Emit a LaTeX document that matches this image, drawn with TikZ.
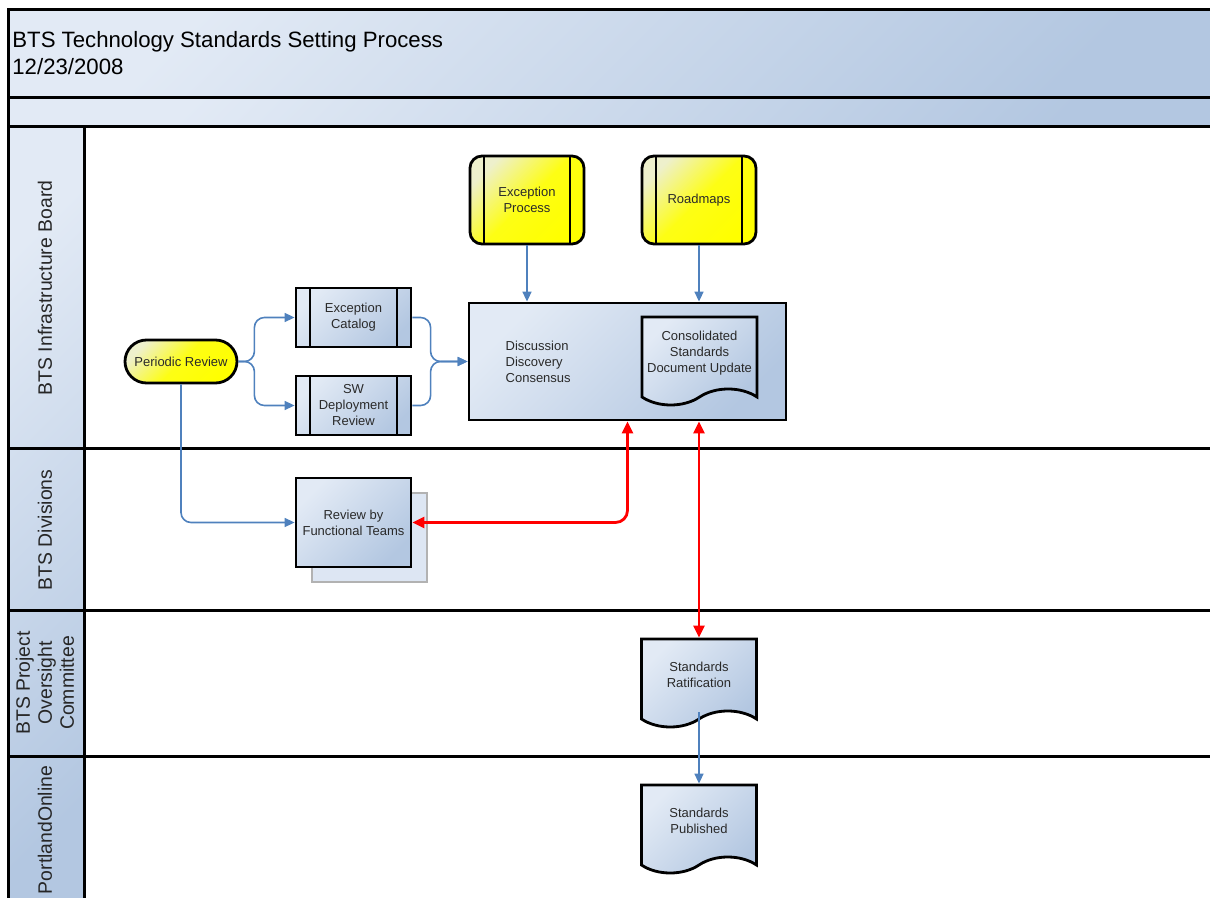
\documentclass[tikz,border=0pt]{standalone}
\usepackage{fontspec}
\setmainfont{Liberation Sans}
\usetikzlibrary{arrows.meta,shapes.misc,shapes.symbols,shadows}
\definecolor{bflight}{HTML}{E2EAF5}
\definecolor{bfdark}{HTML}{B3C7E1}
\definecolor{ylight}{HTML}{EEF0CC}
\definecolor{flowblue}{HTML}{4F81BD}
\definecolor{txtgray}{HTML}{2A2A2A}
\tikzset{
  bluefill/.style={top color=bflight,bottom color=bfdark,shading angle=45},
  yellowfill/.style={top color=ylight,bottom color=yellow,middle color=yellow!90!ylight,shading angle=45},
  smalltext/.style={font=\fontsize{6.5}{8}\selectfont,text=txtgray,align=center},
  sidebars/.style={path picture={
    \draw[line width=1.3pt] ([xshift=7pt]path picture bounding box.north west) -- ([xshift=7pt]path picture bounding box.south west)
      ([xshift=-7pt]path picture bounding box.north east) -- ([xshift=-7pt]path picture bounding box.south east);}},
  procbox/.style={bluefill,sidebars,smalltext,draw,line width=1.4pt,minimum width=57.5pt,minimum height=29.5pt,inner sep=1pt},
  inputbox/.style={yellowfill,sidebars,smalltext,draw,line width=1.4pt,rounded corners=6pt,minimum width=57pt,minimum height=44pt,inner sep=1pt},
  startbox/.style={yellowfill,smalltext,draw,line width=1.4pt,rounded rectangle,minimum width=58pt,minimum height=21.5pt,inner sep=1pt},
  taskbox/.style={bluefill,smalltext,draw,line width=1.4pt,minimum width=57.5pt,minimum height=44.5pt,inner sep=1pt},
  docbox/.style={bluefill,smalltext,draw,line width=1.4pt,tape,tape bend top=none,tape bend bottom=in and out,tape bend height=8pt,minimum width=57.5pt,minimum height=44pt,inner sep=1pt},
  lanetext/.style={rotate=90,font=\fontsize{9.7}{11}\selectfont,text=black!85,align=center},
  frame/.style={line width=1.5pt},
  flow/.style={draw=flowblue,line width=0.8pt,-{Triangle[length=5pt,width=4.5pt]},rounded corners=5pt},
  redflow/.style={draw=red,line width=1.4pt,{Triangle[length=6pt,width=5.5pt]}-{Triangle[length=6pt,width=5.5pt]},rounded corners=6pt}
}
\begin{document}
\begin{tikzpicture}[x=0.5pt,y=-0.5pt]
\clip (0,0) rectangle (1210,898);
% pool and lanes
\draw[bluefill,frame] (8,10) rectangle (1240,98);
\draw[bluefill,frame] (8,98) rectangle (1240,127);
\draw[bluefill,frame] (8,127) rectangle (84,930);
\draw[frame] (84,127) rectangle (1240,930);
\foreach \y in {449,610,756} \draw[frame] (8,\y) -- (1240,\y);
\node[anchor=west,align=left,font=\fontsize{11.1}{13.5}\selectfont,inner sep=0pt] (title) at (12,53.5) {BTS Technology Standards Setting Process\\12/23/2008};
\node[lanetext] (lane1) at (45,288) {BTS Infrastructure Board};
\node[lanetext] (lane2) at (45,530) {BTS Divisions};
\node[lanetext] (lane3) at (45,683) {BTS Project\\Oversight\\Committee};
\node[lanetext] (lane4) at (45,830) {PortlandOnline};
% shapes
\node[inputbox] (ep) at (527,200) {Exception\\Process};
\node[inputbox] (rm) at (699,200) {Roadmaps};
\node[startbox] (pr) at (181,361.5) {Periodic Review};
\node[procbox] (cat) at (353.5,317.5) {Exception\\Catalog};
\node[procbox] (swd) at (353.5,405.5) {SW\\Deployment\\Review};
\node[bluefill,draw,line width=1.4pt,minimum width=158.5pt,minimum height=58.5pt] (disc) at (627.5,361.5) {};
\node[smalltext,align=left,anchor=west] (dtxt) at ([xshift=15.5pt]disc.west) {Discussion\\Discovery\\Consensus};
\node[docbox] (csd) at (699.5,353) {Consolidated\\Standards\\Document Update};
\node[taskbox,general shadow={shadow xshift=8pt,shadow yshift=-7.5pt,fill=bflight!90!bfdark,draw=black!30,line width=1.3pt}] (rft) at (353.5,522.5) {Review by\\Functional Teams};
\node[docbox] (sr) at (699,675) {Standards\\Ratification};
\node[docbox] (sp) at (699,821) {Standards\\Published};
% connectors
\coordinate (prsplit) at ([xshift=8pt]pr.east);
\coordinate (merge) at ([xshift=-18.5pt]disc.west);
\draw[flow] (pr.east) -- (prsplit) |- (cat.west);
\draw[flow] (pr.east) -- (prsplit) |- (swd.west);
\draw[flow] (cat.east) -| (merge) -- (disc.west);
\draw[flow] (swd.east) -| (merge) -- (disc.west);
\draw[flow] (ep.south) -- (ep.south |- disc.north);
\draw[flow] (rm.south) -- (rm.south |- disc.north);
\draw[flow] (pr.south) |- (rft.west);
\draw[redflow] (rft.east) -| (disc.south);
\draw[redflow] (sr.north) -- (sr.north |- disc.south);
\draw[flow] (sr.south) -- (sp.north);
\end{tikzpicture}
\end{document}
